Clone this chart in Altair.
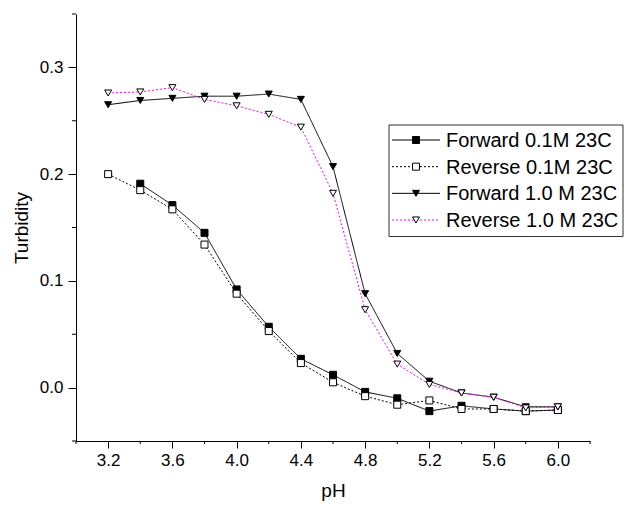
import altair as alt
import pandas as pd

ph = [3.2, 3.4, 3.6, 3.8, 4.0, 4.2, 4.4, 4.6, 4.8, 5.0, 5.2, 5.4, 5.6, 5.8, 6.0]
series = ["Forward 0.1M 23C", "Reverse 0.1M 23C", "Forward 1.0 M 23C", "Reverse 1.0 M 23C"]

fwd01 = [None, 0.191, 0.171, 0.145, 0.092, 0.057, 0.027, 0.012, -0.004, -0.010,
         -0.022, -0.017, -0.020, -0.022, -0.021]
rev01 = [0.200, 0.185, 0.167, 0.134, 0.088, 0.053, 0.023, 0.005, -0.008, -0.016,
         -0.012, -0.020, -0.020, -0.022, -0.021]
fwd10 = [0.265, 0.269, 0.271, 0.273, 0.273, 0.275, 0.270, 0.207, 0.088, 0.032,
         0.006, -0.005, -0.009, -0.018, -0.018]
rev10 = [0.276, 0.277, 0.281, 0.270, 0.264, 0.256, 0.244, 0.182, 0.073, 0.022,
         0.003, -0.005, -0.009, -0.019, -0.018]

x_major = [3.2, 3.6, 4.0, 4.4, 4.8, 5.2, 5.6, 6.0]
x_minor = [3.0, 3.4, 3.8, 4.2, 4.6, 5.0, 5.4, 5.8, 6.2]
y_major = [0.0, 0.1, 0.2, 0.3]
y_minor = [-0.05, 0.05, 0.15, 0.25, 0.35]

line_colors = ["black", "black", "black", "#ff00ff"]
dashes = [[1, 0], [2, 2], [1, 0], [2, 2]]
fills = ["black", "white", "black", "white"]
shapes = ["square", "square", "triangle-down", "triangle-down"]
sizes = [49, 49, 120, 120]

rows = []
for name, vals in zip(series, [fwd01, rev01, fwd10, rev10]):
    for x, v in zip(ph, vals):
        if v is not None:
            rows.append({"pH": x, "Turbidity": v, "series": name})
df = pd.DataFrame(rows)

FONT = "Liberation Sans"
H = 427

stroke_enc = alt.Stroke("series:N", scale=alt.Scale(domain=series, range=line_colors), legend=None)
dash_enc = alt.StrokeDash("series:N", scale=alt.Scale(domain=series, range=dashes), legend=None)
fill_enc = alt.Fill("series:N", scale=alt.Scale(domain=series, range=fills), legend=None)
shape_enc = alt.Shape("series:N", scale=alt.Scale(domain=series, range=shapes), legend=None)
size_enc = alt.Size("series:N", scale=alt.Scale(domain=series, range=sizes), legend=None)

x_enc = alt.X(
    "pH:Q",
    scale=alt.Scale(domain=[3.0, 6.2], nice=False, zero=False),
    axis=alt.Axis(
        title="pH",
        values=x_major,
        format=".1f",
        labelOverlap=False,
        labelFlush=False,
        tickSize=7,
        labelFontSize=17,
        labelPadding=4,
        titleFontSize=19,
        titlePadding=13,
    ),
)
y_enc = alt.Y(
    "Turbidity:Q",
    scale=alt.Scale(domain=[-0.05, 0.35], nice=False, zero=False),
    axis=alt.Axis(
        title="Turbidity",
        values=y_major,
        format=".1f",
        labelOverlap=False,
        labelFlush=False,
        tickSize=8,
        labelFontSize=17,
        labelPadding=5,
        titleFontSize=19,
        titlePadding=8,
    ),
)

lines = alt.Chart(df).mark_line(strokeWidth=1).encode(
    x=x_enc, y=y_enc, stroke=stroke_enc, strokeDash=dash_enc, detail="series:N",
    order="pH:Q",
)
points = alt.Chart(df).mark_point(opacity=1, fillOpacity=1, strokeWidth=1, stroke="black").encode(
    x=alt.X("pH:Q"), y=alt.Y("Turbidity:Q"), fill=fill_enc, shape=shape_enc, size=size_enc,
)
xminor = alt.Chart(pd.DataFrame({"pH": x_minor})).mark_rule(color="black", strokeWidth=1).encode(
    x=alt.X("pH:Q"), y=alt.value(H), y2=alt.value(H + 3)
)
yminor = alt.Chart(pd.DataFrame({"Turbidity": y_minor})).mark_rule(color="black", strokeWidth=1).encode(
    y=alt.Y("Turbidity:Q"), x=alt.value(0), x2=alt.value(-4)
)
main = alt.layer(lines, points, xminor, yminor)

leg_df = pd.DataFrame({"series": series, "idx": [0, 1, 2, 3]})
y_leg = alt.Y("idx:Q", scale=alt.Scale(domain=[0, 3], range=[126, 206], nice=False, zero=False), axis=None)

box = alt.Chart(pd.DataFrame({"a": [0]})).mark_rect(
    fill="white", stroke="#333333", strokeWidth=1
).encode(x=alt.value(313), x2=alt.value(547), y=alt.value(111), y2=alt.value(222.5))
leg_rules = alt.Chart(leg_df).mark_rule(strokeWidth=1).encode(
    x=alt.value(316), x2=alt.value(364), y=y_leg, stroke=stroke_enc, strokeDash=dash_enc
)
leg_pts = alt.Chart(leg_df).mark_point(opacity=1, fillOpacity=1, strokeWidth=1, stroke="black").encode(
    x=alt.value(340), y=y_leg, fill=fill_enc, shape=shape_enc, size=size_enc
)
leg_text = alt.Chart(leg_df).mark_text(
    align="left", baseline="middle", fontSize=20, font=FONT, color="black", dy=1
).encode(x=alt.value(370), y=y_leg, text="series:N")
legend = alt.layer(box, leg_rules, leg_pts, leg_text)

chart = alt.layer(main, legend).resolve_scale(y="independent").properties(
    width=514,
    height=H,
    autosize=alt.AutoSizeParams(type="none"),
    padding={"left": 68, "top": 6, "right": 34, "bottom": 60},
    background="white",
).configure_view(stroke=None).configure_axis(
    grid=False,
    domainColor="black",
    domainWidth=1,
    tickColor="black",
    tickWidth=1,
    labelColor="black",
    titleColor="black",
    labelFont=FONT,
    titleFont=FONT,
    titleFontWeight="normal",
)

chart.save("out.html", embed_options={"renderer": "svg", "actions": False})
